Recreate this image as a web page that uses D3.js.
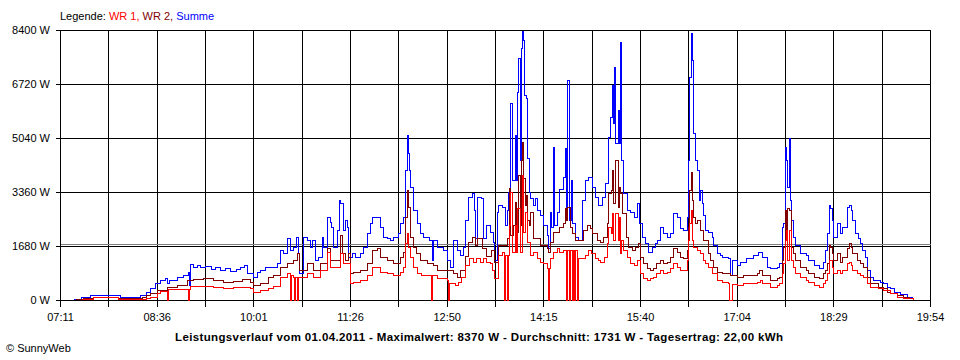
<!DOCTYPE html>
<html>
<head>
<meta charset="utf-8">
<script src="https://cdn.jsdelivr.net/npm/d3@7"></script>
<style>
  html, body { margin: 0; padding: 0; background: #fff; }
  svg { display: block; font-family: "Liberation Sans", Arial, sans-serif; }
</style>
</head>
<body>
<div id="chart"></div>
<script>
// SunnyWeb day curve, 01.04.2011 (W)
const tickLabels = ["07:11", "08:36", "10:01", "11:26", "12:50", "14:15", "15:40", "17:04", "18:29", "19:54"];
const yTicks = [0, 1680, 3360, 5040, 6720, 8400];
const average = 1731;
const title = "Leistungsverlauf vom 01.04.2011 - Maximalwert: 8370 W - Durchschnitt: 1731 W - Tagesertrag: 22,00 kWh";

// Summe (blue)
const summe = [
  ["07:22",30],["07:29",90],["07:37",155],["08:02",155],["08:04",80],["08:19",80],["08:21",155],["08:26",250],
  ["08:30",370],["08:34",530],["08:39",620],["08:43",690],["08:45",530],["08:47",620],["08:54",720],["08:59",780],
  ["09:03",870],["09:04",470],["09:05",1120],["09:08",1030],["09:11",1090],["09:14",1030],["09:18",1060],["09:23",960],
  ["09:27",1030],["09:31",930],["09:36",1000],["09:40",900],["09:45",960],["09:49",1030],["09:52",1090],["09:55",840],
  ["10:00",715],["10:04",870],["10:06",930],["10:11",1030],["10:21",1150],["10:24",1560],["10:27",1460],["10:30",1930],
  ["10:33",1560],["10:35",1650],["10:38",1960],["10:40",1460],["10:41",840],["10:44",1960],["10:48",1870],["10:50",1650],
  ["10:52",1870],["10:55",1245],["10:57",1340],["11:01",1960],["11:02",1650],["11:05",2580],["11:08",2430],["11:09",2270],
  ["11:10",1650],["11:14",2180],["11:16",3110],["11:17",3020],["11:19",2180],["11:21",2490],["11:23",2270],["11:24",1340],
  ["11:27",1460],["11:30",1340],["11:34",1460],["11:37",1650],["11:40",2080],["11:43",2400],["11:45",2580],["11:52",2270],
  ["11:54",1960],["11:58",1930],["12:00",1870],["12:03",1960],["12:07",2080],["12:09",2400],["12:12",2580],["12:14",4040],
  ["12:15",5130],["12:16",4570],["12:17",4040],["12:18",3520],["12:21",2800],["12:24",2400],["12:27",2080],["12:29",1960],
  ["12:35",1870],["12:37",1245],["12:38",1870],["12:42",1650],["12:47",1560],["12:50",1245],["12:53",1030],["12:56",1870],
  ["12:59",1560],["13:02",1400],["13:04",1650],["13:06",2490],["13:09",3200],["13:12",3330],["13:14",2800],["13:15",1930],
  ["13:17",3200],["13:20",3170],["13:22",1930],["13:25",2330],["13:28",2120],["13:31",1800],["13:32",1245],["13:34",2740],
  ["13:35",2960],["13:39",2890],["13:41",2330],["13:43",2800],["13:44",3360],["13:46",6130],["13:47",3730],["13:50",5130],
  ["13:51",3730],["13:52",6470],["13:53",7530],["13:54",4360],["13:55",7840],["13:56",8370],["13:57",8090],["13:58",6380],
  ["14:00",6280],["14:01",4420],["14:02",3360],["14:03",3170],["14:06",2960],["14:08",3170],["14:09",2800],["14:12",2640],
  ["14:15",2330],["14:18",2020],["14:19",1620],["14:21",2740],["14:22",2270],["14:23",4760],["14:24",2330],["14:27",2740],
  ["14:29",3450],["14:32",3830],["14:34",4730],["14:35",2800],["14:36",6840],["14:37",2490],["14:39",3730],["14:40",2400],
  ["14:43",1960],["14:45",1870],["14:49",3110],["14:51",3730],["14:54",3830],["14:58",3520],["15:00",3200],["15:03",2960],
  ["15:06",3200],["15:09",3640],["15:12",5070],["15:13",5690],["15:15",6690],["15:16",5500],["15:17",7250],["15:18",4880],
  ["15:20",5910],["15:21",4880],["15:22",8030],["15:23",4360],["15:25",3330],["15:28",2800],["15:31",2740],["15:34",2580],
  ["15:37",3020],["15:39",2400],["15:41",1960],["15:44",1770],["15:47",1490],["15:50",1650],["15:53",1770],["15:55",1870],
  ["15:57",2270],["16:00",2080],["16:03",1960],["16:06",2080],["16:09",2710],["16:12",2580],["16:15",2240],["16:17",2180],
  ["16:21",2580],["16:22",4360],["16:23",6940],["16:24",8300],["16:25",7470],["16:26",5200],["16:28",4360],["16:30",4040],
  ["16:31",3110],["16:32",3420],["16:34",3020],["16:35",2640],["16:37",2180],["16:39",2120],["16:43",1960],["16:44",1710],
  ["16:47",1460],["16:50",1400],["16:52",1340],["16:57",1310],["16:59",780],["17:00",1245],["17:05",1090],["17:07",1180],
  ["17:13",1310],["17:19",1400],["17:23",1490],["17:27",1340],["17:31",1030],["17:34",1000],["17:40",1030],["17:42",1150],
  ["17:44",2270],["17:45",2400],["17:47",4760],["17:48",4360],["17:49",3520],["17:50",5040],["17:51",3110],["17:52",2490],
  ["17:54",1960],["17:56",1710],["18:00",1460],["18:05",1400],["18:07",1245],["18:12",1090],["18:17",1000],["18:20",1180],
  ["18:22",1560],["18:24",2080],["18:25",2960],["18:26",2860],["18:28",2490],["18:29",1960],["18:32",2400],["18:35",2080],
  ["18:37",2270],["18:41",2890],["18:43",2960],["18:45",2800],["18:46",2490],["18:48",2080],["18:51",1930],["18:53",1770],
  ["18:54",1560],["18:57",1340],["18:59",930],["19:01",715],["19:04",620],["19:10",560],["19:13",530],["19:16",400],
  ["19:19",370],["19:22",250],["19:28",190],["19:34",90],["19:38",60],["19:39",30]
];

// WR 2 (dark red)
const wr2 = [
  ["07:24",30],["07:31",70],["07:40",100],["08:02",50],["08:23",90],["08:26",150],["08:30",220],["08:36",310],
  ["08:45",400],["08:54",470],["09:02",620],["09:08",650],["09:16",680],["09:25",620],["09:34",560],["09:43",590],
  ["09:51",650],["09:58",560],["10:00",470],["10:06",530],["10:13",715],["10:18",780],["10:24",1030],["10:30",1150],
  ["10:35",1245],["10:39",1460],["10:41",930],["10:48",1150],["10:53",930],["10:59",1150],["11:05",1620],["11:08",1245],
  ["11:17",2020],["11:18",1460],["11:21",1245],["11:24",1460],["11:25",840],["11:28",870],["11:34",930],["11:40",1150],
  ["11:45",1560],["11:49",1620],["11:52",1340],["11:58",1245],["12:03",1150],["12:09",1340],["12:12",1490],["12:14",2580],
  ["12:15",3420],["12:16",2890],["12:18",1960],["12:21",1650],["12:23",1460],["12:27",1245],["12:33",1150],["12:38",1090],
  ["12:42",930],["12:56",840],["12:59",715],["13:02",930],["13:06",1370],["13:09",1800],["13:12",1960],["13:15",1710],
  ["13:17",1930],["13:21",1620],["13:25",1370],["13:29",1560],["13:32",1180],["13:35",1710],["13:43",1930],["13:45",3480],
  ["13:46",2020],["13:48",2330],["13:50",3050],["13:51",2120],["13:53",3890],["13:54",2330],["13:55",4360],["13:56",4920],
  ["13:57",3800],["13:59",2960],["14:00",3270],["14:01",2490],["14:02",2330],["14:03",2740],["14:06",1930],["14:12",1710],
  ["14:18",1620],["14:19",1490],["14:21",1800],["14:23",2120],["14:29",2270],["14:32",2400],["14:34",2860],["14:35",2490],
  ["14:36",2890],["14:38",2270],["14:40",2080],["14:43",1870],["14:50",2180],["14:53",2330],["14:56",2240],["14:58",2080],
  ["15:02",1870],["15:05",1800],["15:07",1960],["15:11",2400],["15:12",3330],["15:14",3420],["15:15",4040],["15:16",3020],
  ["15:18",4360],["15:20",2890],["15:21",3520],["15:22",3330],["15:24",2710],["15:27",1960],["15:29",1650],["15:33",1560],
  ["15:35",1650],["15:38",1770],["15:40",1340],["15:42",1150],["15:46",1000],["15:48",930],["15:51",1000],["15:54",1150],
  ["15:57",1245],["16:00",1150],["16:03",1180],["16:06",1340],["16:09",1620],["16:12",1490],["16:15",1340],["16:17",1310],
  ["16:21",1560],["16:22",2270],["16:23",3420],["16:24",3980],["16:25",3110],["16:26",2580],["16:28",2400],["16:30",2490],
  ["16:32",2180],["16:35",1870],["16:39",1460],["16:41",1245],["16:44",1030],["16:47",870],["16:52",840],["16:59",780],
  ["17:05",715],["17:10",780],["17:22",840],["17:24",930],["17:27",780],["17:34",620],["17:40",680],["17:42",715],
  ["17:44",1245],["17:45",1650],["17:47",2800],["17:48",2180],["17:49",2860],["17:50",2800],["17:52",1650],["17:54",1460],
  ["17:56",1245],["18:00",1030],["18:05",930],["18:07",840],["18:12",715],["18:17",680],["18:20",840],["18:22",930],
  ["18:24",1150],["18:25",1710],["18:26",1650],["18:28",1460],["18:29",1245],["18:32",1460],["18:35",1180],["18:37",1340],
  ["18:41",1620],["18:43",1770],["18:45",1650],["18:46",1460],["18:50",1245],["18:53",1150],["18:55",1030],["18:59",715],
  ["19:01",530],["19:08",400],["19:13",370],["19:16",250],["19:19",220],["19:25",155],["19:30",90],["19:36",60],["19:39",30]
];

// WR 1 (red)
const wr1 = [
  ["07:29",20],["07:33",40],["07:40",80],["08:02",30],["08:26",60],["08:30",100],["08:36",210],["08:39",290],
  ["08:45",0],["08:46",330],["09:03",0],["09:04",330],["09:05",435],["09:25",390],["09:34",370],["09:43",400],
  ["09:58",370],["10:00",250],["10:06",310],["10:13",370],["10:18",435],["10:24",715],["10:30",840],["10:33",0],
  ["10:34",780],["10:35",715],["10:36",0],["10:37",715],["10:39",0],["10:40",715],["10:48",840],["10:53",715],
  ["10:59",930],["11:05",1490],["11:08",1030],["11:17",1460],["11:19",1150],["11:25",530],["11:28",560],["11:34",620],
  ["11:40",780],["11:45",1030],["11:52",870],["11:58",840],["12:03",780],["12:09",870],["12:12",1030],["12:14",1770],
  ["12:15",2080],["12:16",1650],["12:18",1340],["12:21",1030],["12:24",840],["12:28",780],["12:36",0],["12:37",780],
  ["12:42",680],["12:50",620],["12:51",0],["12:52",530],["12:57",470],["13:00",560],["13:03",715],["13:06",1090],
  ["13:10",1310],["13:13",1180],["13:16",1310],["13:19",1180],["13:22",1310],["13:25",1180],["13:28",1150],["13:30",930],
  ["13:32",680],["13:35",1400],["13:39",1490],["13:40",0],["13:41",1400],["13:43",0],["13:44",1400],["13:45",2330],
  ["13:46",3360],["13:47",1490],["13:50",2330],["13:51",1490],["13:52",2860],["13:54",1490],["13:56",3890],["13:57",2120],
  ["13:59",2740],["14:01",1800],["14:03",1400],["14:06",1490],["14:09",1310],["14:12",1180],["14:15",1150],["14:18",1000],
  ["14:19",0],["14:20",1000],["14:21",1310],["14:23",1490],["14:27",1620],["14:29",1490],["14:32",1560],["14:35",0],
  ["14:36",1560],["14:37",0],["14:38",1560],["14:40",0],["14:41",1560],["14:42",0],["14:43",1560],["14:44",0],
  ["14:45",1310],["14:51",1400],["14:54",1560],["14:57",1460],["15:00",1310],["15:03",1245],["15:05",1180],["15:08",1340],
  ["15:11",1770],["15:12",2270],["15:14",2080],["15:15",2710],["15:16",1870],["15:18",2710],["15:20",1870],["15:21",2580],
  ["15:22",1460],["15:23",1870],["15:25",1560],["15:28",1340],["15:31",1150],["15:34",1090],["15:37",1245],["15:40",840],
  ["15:42",680],["15:46",620],["15:48",680],["15:51",715],["15:54",840],["15:57",930],["16:00",840],["16:03",870],
  ["16:06",1000],["16:09",1150],["16:12",1030],["16:15",930],["16:21",1245],["16:22",1870],["16:23",2400],["16:24",2800],
  ["16:25",1870],["16:26",1650],["16:30",1560],["16:32",1460],["16:35",1245],["16:37",1150],["16:39",1030],["16:43",840],
  ["16:47",620],["16:52",560],["16:57",530],["16:58",0],["17:00",500],["17:05",470],["17:10",530],["17:22",560],
  ["17:25",620],["17:27",530],["17:34",400],["17:40",470],["17:42",530],["17:44",840],["17:45",1150],["17:47",1870],
  ["17:48",2180],["17:49",1245],["17:50",2180],["17:52",1245],["17:54",1030],["17:56",840],["18:00",715],["18:05",620],
  ["18:07",560],["18:12",470],["18:17",400],["18:20",530],["18:22",620],["18:24",840],["18:25",1245],["18:28",1030],
  ["18:29",840],["18:32",930],["18:35",840],["18:37",930],["18:41",1150],["18:43",1180],["18:45",1090],["18:46",930],
  ["18:50",840],["18:53",780],["18:55",715],["18:59",530],["19:01",400],["19:08",370],["19:13",310],["19:19",220],
  ["19:25",90],["19:30",60],["19:39",30]
];

const series = [
  { name: "Summe", data: summe, color: "#0000ff" },
  { name: "WR 2", data: wr2, color: "#800000" },
  { name: "WR 1", data: wr1, color: "#ff0000" }
];
const legend = [
  { text: "WR 1, ", color: "#ff0000" },
  { text: "WR 2, ", color: "#800000" },
  { text: "Summe", color: "#0000ff" }
];

(function () {
  const W = 960, H = 360;
  const plotLeft = 60, plotRight = 930, plotTop = 30, plotBottom = 300;

  const toMin = (s) => {
    const [h, m] = s.split(":").map(Number);
    return h * 60 + m;
  };
  const t0 = toMin(tickLabels[0]);
  const t1 = toMin(tickLabels[tickLabels.length - 1]);

  const x = d3.scaleLinear().domain([t0, t1]).range([plotLeft, plotRight]);
  const y = d3.scaleLinear().domain([0, 8400]).range([plotBottom, plotTop]);

  const svg = d3.select("#chart").append("svg")
    .attr("width", W).attr("height", H);

  const g = svg.append("g")
    .attr("transform", "translate(0.5,0.5)")
    .attr("shape-rendering", "crispEdges");

  // grid: a vertical line every half label interval
  const gridTimes = d3.range(19).map((i) => t0 + (i * (t1 - t0)) / 18);
  g.append("g").selectAll("line")
    .data(gridTimes).enter().append("line")
    .attr("x1", (d) => Math.round(x(d))).attr("x2", (d) => Math.round(x(d)))
    .attr("y1", plotTop).attr("y2", plotBottom + 6)
    .attr("stroke", "#000");

  g.append("g").selectAll("line")
    .data(yTicks).enter().append("line")
    .attr("x1", plotLeft - 5).attr("x2", plotRight)
    .attr("y1", (d) => Math.round(y(d))).attr("y2", (d) => Math.round(y(d)))
    .attr("stroke", "#000");

  // average line
  g.append("line")
    .attr("x1", plotLeft).attr("x2", plotRight)
    .attr("y1", Math.round(y(average))).attr("y2", Math.round(y(average)))
    .attr("stroke", "#808080");

  // series
  const line = d3.line()
    .x((d) => Math.round(x(toMin(d[0]))))
    .y((d) => Math.round(y(d[1])))
    .curve(d3.curveStepAfter);

  g.append("g").selectAll("path")
    .data(series).enter().append("path")
    .attr("d", (d) => line(d.data))
    .attr("fill", "none")
    .attr("stroke", (d) => d.color)
    .attr("stroke-width", 1);

  // axes (labels only, lines drawn above)
  const labelTimes = gridTimes.filter((d, i) => i % 2 === 0);
  const xAxis = d3.axisBottom(x)
    .tickValues(labelTimes)
    .tickFormat((d, i) => tickLabels[i])
    .tickSize(0).tickPadding(13);
  svg.append("g")
    .attr("transform", `translate(0,${plotBottom})`)
    .call(xAxis)
    .call((a) => a.select(".domain").remove());

  const yAxis = d3.axisLeft(y)
    .tickValues(yTicks)
    .tickFormat((d) => d + " W")
    .tickSize(0).tickPadding(10);
  svg.append("g")
    .attr("transform", `translate(${plotLeft},0)`)
    .call(yAxis)
    .call((a) => a.select(".domain").remove());

  svg.selectAll(".tick text")
    .attr("font-family", "Liberation Sans, Arial, sans-serif")
    .attr("font-size", 11)
    .attr("fill", "#000");

  // legend
  const leg = svg.append("text")
    .attr("x", plotLeft).attr("y", 20)
    .attr("font-size", 11);
  leg.append("tspan").attr("fill", "#000").text("Legende: ");
  legend.forEach((l) => leg.append("tspan").attr("fill", l.color).text(l.text));

  // footer
  svg.append("text")
    .attr("x", 479).attr("y", 341)
    .attr("text-anchor", "middle")
    .attr("font-size", 11.5).attr("font-weight", "bold")
    .attr("textLength", 608).attr("lengthAdjust", "spacing")
    .text(title);

  svg.append("text")
    .attr("x", 6).attr("y", 352)
    .attr("font-size", 11)
    .text("\u00a9 SunnyWeb");
})();
</script>
</body>
</html>
